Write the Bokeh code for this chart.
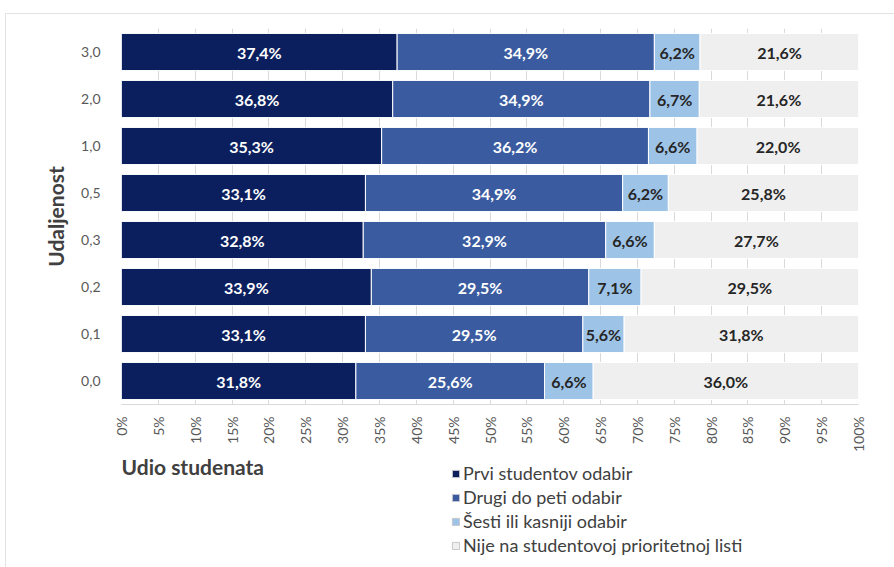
import numpy as np
from bokeh.plotting import figure
from bokeh.layouts import column
from bokeh.models import (ColumnDataSource, FactorRange, LabelSet, Legend, LegendItem,
                          FixedTicker, Range1d, Label)
from bokeh.core.properties import value
from bokeh.embed import file_html
from bokeh.resources import INLINE

categories = ["0,0", "0,1", "0,2", "0,3", "0,5", "1,0", "2,0", "3,0"]
prvi = [31.8, 33.1, 33.9, 32.8, 33.1, 35.3, 36.8, 37.4]
drugi = [25.6, 29.5, 29.5, 32.9, 34.9, 36.2, 34.9, 34.9]
sesti = [6.6, 5.6, 7.1, 6.6, 6.2, 6.6, 6.7, 6.2]
nije = [36.0, 31.8, 29.5, 27.7, 25.8, 22.0, 21.6, 21.6]
series_names = ["Prvi studentov odabir", "Drugi do peti odabir",
                "Šesti ili kasniji odabir", "Nije na studentovoj prioritetnoj listi"]
colors = ["#0B1F5E", "#3A5BA0", "#9DC3E6", "#EFEFEF"]
text_colors = ["white", "white", "#262626", "#262626"]
x_ticks = [i * 5 for i in range(21)]

FONT = "Lato"

keys = ["prvi", "drugi", "sesti", "nije"]
vals = [prvi, drugi, sesti, nije]
data = {"cat": categories}
for k, v in zip(keys, vals):
    data[k] = [x / 100 for x in v]
src = ColumnDataSource(data)

p = figure(width=888, height=441, output_backend="svg", toolbar_location=None,
           y_range=FactorRange(*categories), x_range=Range1d(0, 1),
           min_border_left=115, min_border_right=36, min_border_top=14, min_border_bottom=51)

renderers = p.hbar_stack(keys, y="cat", height=0.79, source=src, color=colors,
                         line_color="white", line_width=1)

cum = np.zeros(len(categories))
for i, v in enumerate(vals):
    arr = np.array(v) / 100
    centers = cum + arr / 2
    cum = cum + arr
    ls = ColumnDataSource(dict(x=list(centers), y=categories,
                               t=[("%.1f%%" % x).replace(".", ",") for x in v]))
    p.add_layout(LabelSet(x="x", y="y", text="t", source=ls, text_align="center",
                          text_baseline="middle", text_color=text_colors[i],
                          text_font=value(FONT), text_font_style="bold",
                          text_font_size="16px"))

p.xaxis.ticker = FixedTicker(ticks=[t / 100 for t in x_ticks])
p.xaxis.major_label_overrides = {t / 100: "%d%%" % t for t in x_ticks}
p.xaxis.major_label_orientation = np.pi / 2
p.xaxis.major_label_text_font = FONT
p.xaxis.major_label_text_font_size = "14px"
p.xaxis.major_label_text_color = "#595959"
p.xaxis.axis_line_color = "#D9D9D9"
p.xaxis.major_tick_line_color = None
p.xaxis.minor_tick_line_color = None
p.xaxis.major_label_standoff = 6

p.yaxis.axis_line_color = None
p.yaxis.major_tick_line_color = None
p.yaxis.minor_tick_line_color = None
p.yaxis.major_label_text_font = FONT
p.yaxis.major_label_text_font_size = "14px"
p.yaxis.major_label_text_color = "#595959"
p.yaxis.major_label_standoff = 15
p.yaxis.axis_label = "Udaljenost"
p.yaxis.axis_label_text_font = FONT
p.yaxis.axis_label_text_font_style = "bold"
p.yaxis.axis_label_text_font_size = "21px"
p.yaxis.axis_label_text_color = "#404040"
p.yaxis.axis_label_standoff = 10

p.xgrid.grid_line_color = "#D9D9D9"
p.ygrid.grid_line_color = None
p.outline_line_color = None

# lower panel: axis title + legend
p2 = figure(width=888, height=112, output_backend="svg", toolbar_location=None,
            x_range=Range1d(0, 1), y_range=Range1d(0, 1),
            min_border_left=115, min_border_right=36, min_border_top=0, min_border_bottom=0)
p2.axis.visible = False
p2.grid.grid_line_color = None
p2.outline_line_color = None

p2.add_layout(Label(x=0, y=101, x_units="screen", y_units="screen", text="Udio studenata",
                    text_font=FONT, text_font_style="bold", text_font_size="21px",
                    text_color="#404040", text_baseline="middle", text_align="left"))

dummy = [p2.quad(left=[-10], right=[-9], bottom=[-10], top=[-9], fill_color=c,
                 line_color="#C8C8C8", line_width=1)
         for c in colors]
items = [LegendItem(label=series_names[i], renderers=[dummy[i]]) for i in range(4)]
leg = Legend(items=items, location=(330, 11), border_line_color=None,
             background_fill_alpha=0, label_text_font=FONT, label_text_font_size="18px",
             label_text_color="#404040", glyph_width=9, glyph_height=9,
             label_height=20, spacing=2, label_standoff=3, padding=0, margin=0)
p2.add_layout(leg)

layout = column(p, p2, spacing=0,
                styles={"margin-left": "5px", "margin-top": "13px",
                        "border-left": "1px solid #E3E3E3", "border-top": "1px solid #E3E3E3"})
open("out.html", "w").write(file_html(layout, INLINE))
